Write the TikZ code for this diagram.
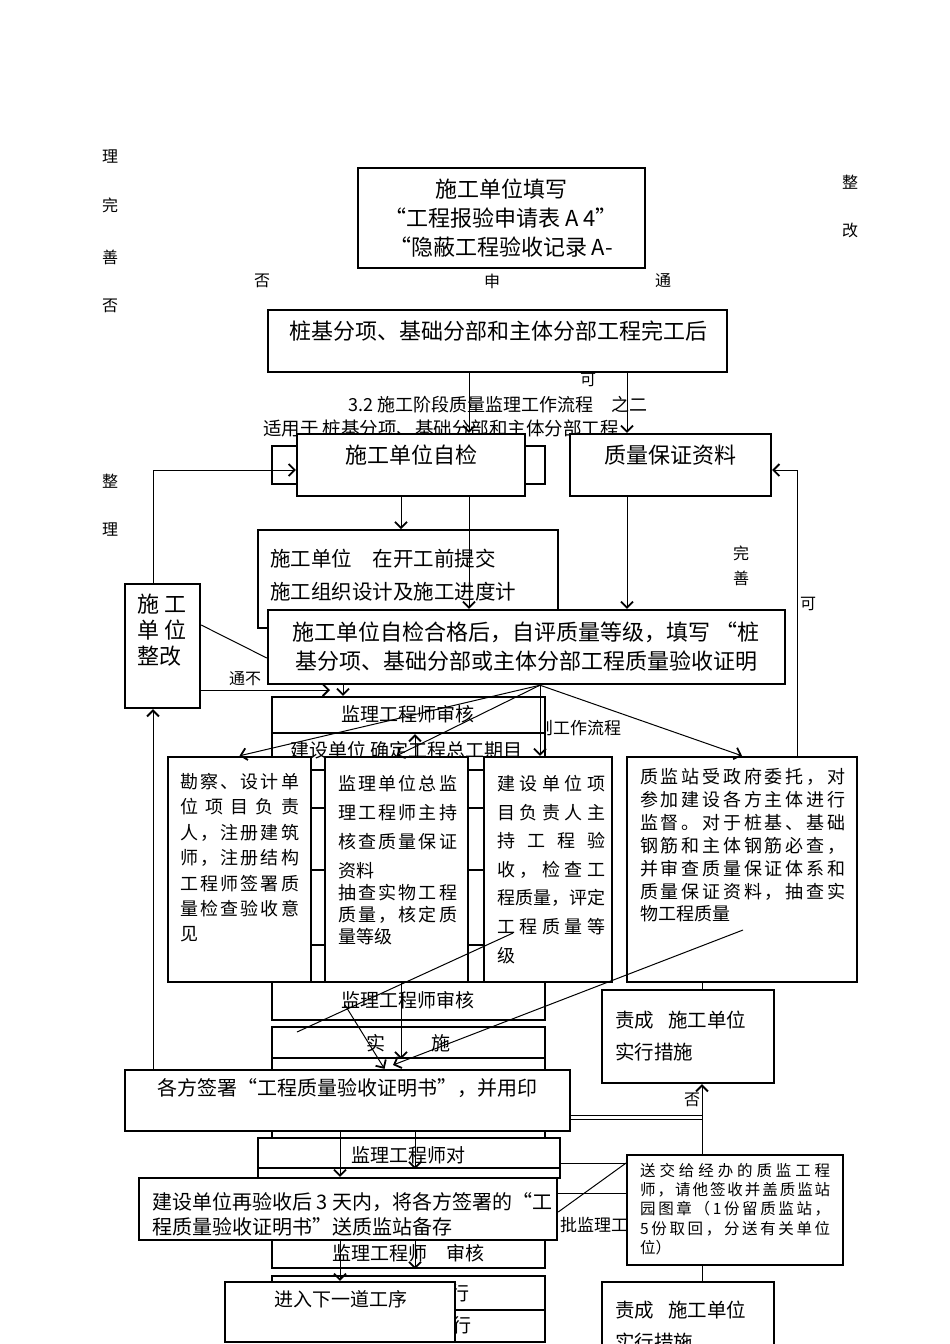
\documentclass[tikz,border=0pt]{standalone}
\usepackage{fontspec}
\setmainfont{Noto Sans CJK SC}
\usetikzlibrary{arrows.meta,fit}

% spread one line of characters over a given width
\def\spreadit#1{#1\spreadnext}
\def\spreadnext#1{\ifx\relax#1\else\hfil#1\expandafter\spreadnext\fi}
\def\jline#1#2{\hbox to #1{\spreadit#2\relax}}

\tikzset{
  bx/.style={draw, line width=2.4pt, fill=white, inner sep=0pt},
  lbx/.style={draw, line width=1.8pt, fill=white, inner sep=0pt},
  tx/.style={inner sep=0pt, align=left},
  big/.style={font=\fontsize{22}{29}\selectfont},
  mid/.style={font=\fontsize{19}{24}\selectfont},
  small/.style={font=\fontsize{16}{20}\selectfont},
  ln/.style={line width=1pt},
  arr/.style={line width=1pt, -{Straight Barb[length=6pt,width=12pt,line width=1.8pt]}},
}

\begin{document}
\begin{tikzpicture}[x=1pt, y=-1pt]
  \useasboundingbox (0,0) rectangle (950,1344);
  \fill[white] (0,0) rectangle (950,1344);

  %columns
  \foreach \c in {153,340,343,401,415,469,540,627,702,797}
      \coordinate (x\c) at (\c,0);

  %head
  \node[bx, fit={(358,168) (645,268)}] (tb) {};
  \node[tx, big, align=center, anchor=north] (tbt) at (501,179) {施工单位填写\\“工程报验申请表 A 4”\\“隐蔽工程验收记录 A-};
  \node[bx, fit={(268,310) (727,372)}] (wg) {};
  \node[tx, big] (wgt) at (498,331) {桩基分项、基础分部和主体分部工程完工后};

  %side words
  \foreach \x/\y/\ch/\nm in {110/157/理/w1, 110/205/完/w2, 110/257/善/w3, 110/306/否/w4,
        110/481/整/w5, 110/530/理/w6, 850/182/整/w7, 850/230/改/w8, 262/281/否/w9,
        492/281/申/w10, 663/281/通/w11, 588/380/可/w12, 741/553/完/w13, 741/578/善/w14,
        808/604/可/w15, 692/1100/否/w16}
      \node[tx, small] (\nm) at (\x,\y) {\ch};

  %title
  \node[tx, font=\fontsize{18}{20}\selectfont] (ttl) at (498,405) {3.2 施工阶段质量监理工作流程\quad 之二};
  \node[tx, font=\fontsize{18.5}{20}\selectfont, anchor=west] (sub) at (263,428) {适用于 桩基分项、基础分部和主体分部工程};

  %self check
  \node[bx, fit={(272,446) (545,484)}] (bg0) {};
  \node[bx, fit={(297,434) (525,496)}] (zj) {};
  \node[tx, big] (zjt) at (411,455) {施工单位自检};
  \node[bx, fit={(570,434) (771,496)}] (zl) {};
  \node[tx, big] (zlt) at (670,455) {质量保证资料};
  \draw[arr] (x469 |- wg.south) -- (x469 |- zj.north);
  \draw[arr] (x627 |- wg.south) -- (x627 |- zl.north);

  \node[lbx, fit={(258,530) (558,628)}] (tj) {};
  \node[tx, font=\fontsize{20.5}{33}\selectfont, anchor=north west] (tjt) at (270,549) {施工单位　在开工前提交\\施工组织设计及施工进度计};
  \draw[arr] (x401 |- zj.south) -- (x401 |- tj.north);

  \node[bx, fit={(125,584) (200,708)}] (zg) {};
  \node[tx, font=\fontsize{22}{26}\selectfont, anchor=north west] (zgt) at (137,594) {施 工\\单 位\\整改};

  \node[bx, fit={(268,610) (785,684)}] (hg) {};
  \node[tx, align=center, font=\fontsize{22}{29}\selectfont, anchor=north] (hgt) at (526,622) {施工单位自检合格后，自评质量等级，填写 “桩\\基分项、基础分部或主体分部工程质量验收证明};

  \draw[arr] (x469 |- zj.south) -- (x469 |- hg.north);
  \draw[arr] (x627 |- zl.south) -- (x627 |- hg.north);
  \draw[arr] (x153 |- zg.north) |- ([yshift=-5pt]zj.west);
  \draw[ln] ([yshift=21pt]zg.east) -- ([yshift=-11pt]hg.west);
  \node[tx, small] (tbu) at (245,679) {通不};
  \coordinate (tbe) at (330,690);
  \draw[arr] ([yshift=-44pt]zg.east) -- (tbe);

  %review row
  \node[tx, font=\fontsize{17}{20}\selectfont, anchor=west] (zlc) at (536,728) {则工作流程};
  \node[bx, fit={(272,697) (545,733)}] (sh1) {};
  \node[tx, mid] (sh1t) at (408,714) {监理工程师审核};
  \node[bx, fit={(272,733) (545,982)}] (bg1) {};
  \foreach \y in {770,808,870,945}
      \draw[line width=2pt] (272,\y) -- (545,\y);
  \node[tx, mid, anchor=west] (gq) at (290,750) {建设单位 确定工程总工期目};

  %four parties
  \node[bx, fit={(168,757) (311,982)}] (kc) {};
  \node[tx, font=\fontsize{18}{25.4}\selectfont, anchor=north west] (kct) at (180,773)
      {\jline{119pt}{勘察、设计单}\\\jline{119pt}{位项目负责}\\\jline{119pt}{人，注册建筑}\\
       \jline{119pt}{师，注册结构}\\\jline{119pt}{工程师签署质}\\\jline{119pt}{量检查验收意}\\见};
  \node[bx, fit={(325,757) (468,982)}] (jl) {};
  \node[tx, font=\fontsize{18}{29}\selectfont, anchor=north west] (jlt) at (338,775)
      {\jline{119pt}{监理单位总监}\\\jline{119pt}{理工程师主持}\\\jline{119pt}{核查质量保证}\\资料\\[-7pt]
       \jline{119pt}{抽查实物工程}\\[-7pt]\jline{119pt}{质量，核定质}\\[-7pt]量等级};
  \node[bx, fit={(484,757) (612,982)}] (js) {};
  \node[tx, font=\fontsize{18}{28.6}\selectfont, anchor=north west] (jst) at (497,775)
      {\jline{108pt}{建设单位项}\\\jline{108pt}{目负责人主}\\\jline{108pt}{持工程验}\\\jline{108pt}{收，检查工}\\
       \jline{108pt}{程质量，评定}\\\jline{108pt}{工程质量等}\\级};
  \node[bx, fit={(627,757) (857,982)}] (zjz) {};
  \node[tx, font=\fontsize{18}{22.9}\selectfont, anchor=north west] (zjzt) at (640,768)
      {\jline{205pt}{质监站受政府委托，对}\\\jline{205pt}{参加建设各方主体进行}\\\jline{205pt}{监督。对于桩基、基础}\\
       \jline{205pt}{钢筋和主体钢筋必查，}\\\jline{205pt}{并审查质量保证体系和}\\\jline{205pt}{质量保证资料，抽查实}\\物工程质量};

  \coordinate (fan) at (x540 |- hg.south);
  \draw[arr] (fan) -- (kc.north);
  \draw[arr] (fan) -- (jl.north);
  \draw[arr] (fan) -- (x540 |- js.north);
  \draw[arr] (fan) -- (zjz.north);
  \draw[arr] (x343 |- hg.south) -- (x343 |- sh1.north);
  \draw[arr] (x415 |- jl.north) -- (x415 |- sh1.south);
  \draw[arr] (x797 |- zjz.north) |- ([yshift=-5pt]zl.east);

  %lower column
  \node[bx, fit={(272,982) (545,1020)}] (sh2) {};
  \node[tx, mid] (sh2t) at (408,1000) {监理工程师审核};
  \node[bx, fit={(272,1027) (545,1058)}] (ss) {};
  \node[tx, mid] (sst) at (408,1043) {实\hspace{46pt}施};
  \node[bx, fit={(272,1058) (545,1138)}] (bg2) {};
  \node[tx, font=\fontsize{17}{20}\selectfont, anchor=west] (pj) at (560,1225) {批监理工};
  \node[bx, fit={(125,1070) (570,1131)}] (gf) {};
  \node[tx, font=\fontsize{20}{24}\selectfont] (gft) at (347,1088) {各方签署“工程质量验收证明书”，并用印};
  \node[bx, fit={(258,1138) (560,1168)}] (jd) {};
  \node[tx, mid] (jdt) at (408,1155) {监理工程师对};
  \node[bx, fit={(258,1168) (560,1178)}] (bg3) {};
  \node[bx, fit={(272,1178) (545,1268)}] (sh3) {};
  \node[tx, mid] (sh3t) at (408,1253) {监理工程师\quad 审核};
  \node[bx, fit={(139,1178) (557,1240)}] (jy) {};
  \node[tx, font=\fontsize{20}{25}\selectfont, anchor=north west] (jyt) at (152,1192)
      {建设单位再验收后 3 天内，将各方签署的“工\\程质量验收证明书”送质监站备存};
  \node[bx, fit={(272,1276) (545,1310)}] (bg4) {};
  \node[bx, fit={(272,1310) (545,1342)}] (bg5) {};
  \node[tx, mid] (h1) at (460,1293) {行};
  \node[tx, mid] (h2) at (462,1325) {行};
  \node[bx, fit={(225,1282) (455,1342)}] (xd) {};
  \node[tx, mid] (xdt) at (341,1299) {进入下一道工序};

  %right column
  \node[bx, fit={(602,990) (774,1083)}] (zc1) {};
  \node[tx, font=\fontsize{19.5}{32}\selectfont, anchor=north west] (zc1t) at (615,1011) {责成\hspace{14pt}施工单位\\实行措施};
  \node[lbx, fit={(627,1155) (843,1265)}] (sj) {};
  \node[tx, font=\fontsize{15.5}{19.3}\selectfont, anchor=north west] (sjt) at (640,1163)
      {\jline{190pt}{送交给经办的质监工程}\\\jline{190pt}{师，请他签收并盖质监站}\\\jline{190pt}{园图章（1份留质监站，}\\
       \jline{190pt}{5份取回，分送有关单位}\\位）};
  \node[bx, fit={(602,1282) (774,1352)}] (zc2) {};
  \node[tx, font=\fontsize{19.5}{32}\selectfont, anchor=north west] (zc2t) at (615,1301) {责成\hspace{14pt}施工单位\\实行措施};

  \draw[arr] (x153 |- gf.north) -- (x153 |- zg.south);
  \draw[arr] (x401 |- jl.south) -- (x401 |- ss.south);
  \coordinate (d1) at (345,1005);
  \draw[arr] (d1) -- ([xshift=37pt]gf.north);
  \draw[arr] (x340 |- gf.south) -- (x340 |- jy.north);
  \draw[arr] (x415 |- gf.south) -- (x415 |- jd.south);
  \draw[arr] (x340 |- jy.south) -- (x340 |- xd.north);
  \draw[arr] (x415 |- jy.south) -- (x415 |- sh3.south);
  \draw[ln] (x702 |- zjz.south) -- (x702 |- zc1.north);
  \draw[arr] (x702 |- sj.north) -- (x702 |- zc1.south);
  \draw[ln] (x702 |- sj.south) -- (x702 |- zc2.north);
  \coordinate (g1) at ([yshift=-14.5pt]gf.east);
  \coordinate (g2) at ([yshift=-18.5pt]gf.east);
  \draw[ln] (g1) -- (g1 -| x702);
  \draw[ln] (g2) -- (g2 -| x702);
  \coordinate (j1) at ([yshift=-10pt]jd.east);
  \coordinate (j2) at ([yshift=16pt]jy.east);
  \draw[ln] (j1) -- (j1 -| sj.west);
  \draw[ln] (j2) -- (j2 -| sj.west);
  \draw[ln] ([yshift=47pt]sj.west) -- ([yshift=-3pt]jy.east);

  %cross lines
  \coordinate (a1) at (297,1032);
  \coordinate (a2) at (513,933);
  \draw[ln] (a1) -- (a2);
  \coordinate (b1) at (743,930);
  \coordinate (b2) at (393,1065);
  \draw[arr] (b1) -- (b2);

\end{tikzpicture}
\end{document}
